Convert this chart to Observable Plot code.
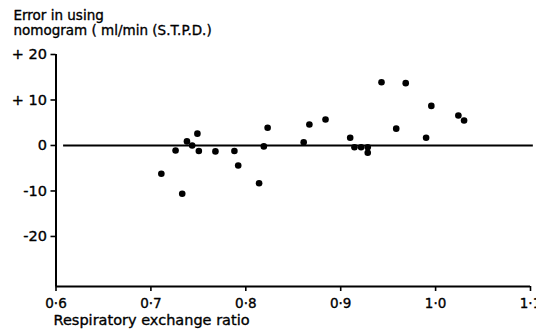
<!DOCTYPE html>
<html>
<head>
<meta charset="utf-8">
<script src="https://cdn.jsdelivr.net/npm/d3@7"></script>
<script src="https://cdn.jsdelivr.net/npm/@observablehq/plot@0.6"></script>
<style>
  html, body { margin: 0; padding: 0; background: #fff; overflow: hidden; }
  #chart svg { display: block; }
</style>
</head>
<body>
<div id="chart"></div>
<script>
// Respiratory exchange ratio (x) and error in using nomogram, ml/min STPD (y)
const rer = [0.711, 0.726, 0.733, 0.738, 0.7435, 0.749, 0.7505, 0.768, 0.788, 0.792,
             0.814, 0.819, 0.823, 0.861, 0.867, 0.884, 0.910, 0.9145, 0.9215, 0.9285,
             0.9285, 0.943, 0.9585, 0.9685, 0.990, 0.9955, 1.024, 1.030];
const errorValues = [-6.2, -1.1, -10.6, 0.9, 0.0, 2.6, -1.2, -1.3, -1.2, -4.4,
                     -8.3, -0.2, 3.9, 0.7, 4.6, 5.7, 1.7, -0.4, -0.4, -0.4,
                     -1.6, 13.9, 3.7, 13.7, 1.7, 8.7, 6.6, 5.5];

const xTicks = [0.6, 0.7, 0.8, 0.9, 1.0, 1.1];
const xTickLabels = ["0·6", "0·7", "0·8", "0·9", "1·0", "1·1"];
const yTicks = [20, 10, 0, -10, -20];
const yTickLabels = ["+ 20", "+ 10", "0", "-10", "-20"];
const xDomain = [0.6, 1.1];
const yDomain = [-31, 20];
const zeroLine = [{y: 0, x1: 0.608, x2: 1.103}];

const titleLines = ["Error in using", "nomogram ( ml/min (S.T.P.D.)"];
const xTitle = "Respiratory exchange ratio";

const points = rer.map((x, i) => ({x, y: errorValues[i]}));
const font = "'DejaVu Sans', sans-serif";

const chart = Plot.plot({
  width: 536,
  height: 329,
  marginLeft: 55.5,
  marginRight: 6,
  marginTop: 54,
  marginBottom: 43,
  style: {fontFamily: font, fontSize: "13px", color: "#000", background: "#fff", overflow: "visible"},
  x: {domain: xDomain},
  y: {domain: yDomain},
  marks: [
    Plot.axisX({ticks: xTicks, tickFormat: d => xTickLabels[xTicks.indexOf(d)], tickSize: 5, tickPadding: 7, strokeWidth: 1.6, label: null, fontSize: 13.5, textStroke: "#000", textStrokeWidth: 0.35}),
    Plot.axisY({ticks: yTicks, tickFormat: d => yTickLabels[yTicks.indexOf(d)], tickSize: 5, tickPadding: 4, strokeWidth: 1.6, label: null, fontSize: 14.5, textStroke: "#000", textStrokeWidth: 0.35}),
    Plot.ruleX([xDomain[0]], {y1: yDomain[0], y2: yDomain[1], strokeWidth: 2}),
    Plot.ruleY([yDomain[0]], {x1: xDomain[0], x2: xDomain[1], strokeWidth: 2}),
    Plot.ruleY(zeroLine, {y: "y", x1: "x1", x2: "x2", strokeWidth: 2.2}),
    Plot.dot(points, {x: "x", y: "y", r: 3.3, fill: "#000", stroke: null}),
    Plot.text([titleLines.join("\n")], {frameAnchor: "top-left", dx: -42.5, dy: -45, textAnchor: "start", lineAnchor: "top", lineHeight: 1.1, fontSize: 13.5, fill: "#000", stroke: "#000", strokeWidth: 0.35}),
    Plot.text([xTitle], {frameAnchor: "bottom-left", dx: -2.5, dy: 28.7, textAnchor: "start", lineAnchor: "top", fontSize: 14.5, fill: "#000", stroke: "#000", strokeWidth: 0.35})
  ]
});
document.getElementById("chart").appendChild(chart);
</script>
</body>
</html>
